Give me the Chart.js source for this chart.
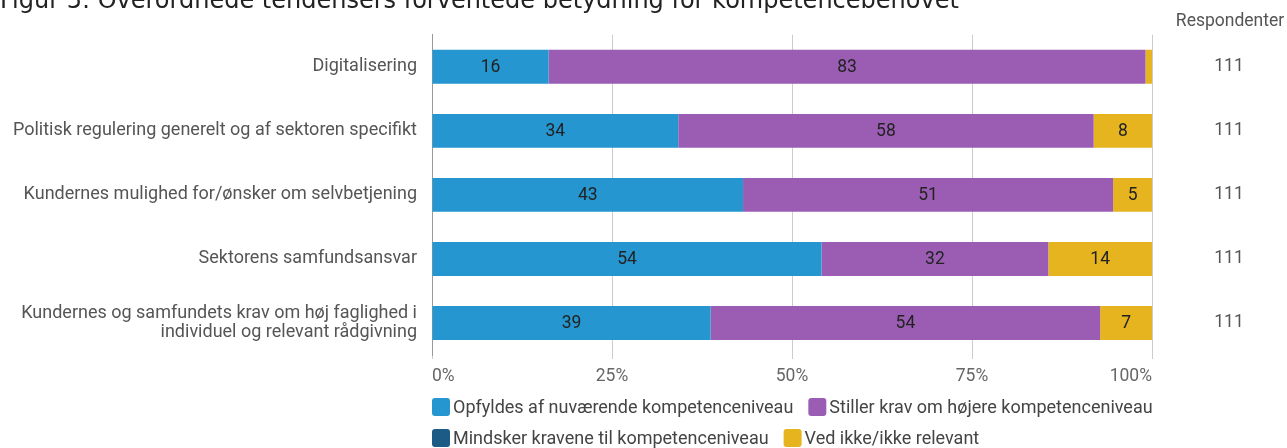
<!DOCTYPE html>
<html>
<head>
<meta charset="utf-8">
<script src="https://cdn.jsdelivr.net/npm/chart.js@4/dist/chart.umd.min.js"></script>
<style>
html,body{margin:0;padding:0;background:#fff;overflow:hidden;}
#wrap{width:1287px;height:448px;position:relative;}
</style>
</head>
<body>
<div id="wrap"><canvas id="c" width="1287" height="448"></canvas></div>
<script>
const titleText = "Figur 5: Overordnede tendensers forventede betydning for kompetencebehovet";
const categories = [
  "Digitalisering",
  "Politisk regulering generelt og af sektoren specifikt",
  "Kundernes mulighed for/ønsker om selvbetjening",
  "Sektorens samfundsansvar",
  ["Kundernes og samfundets krav om høj faglighed i", "individuel og relevant rådgivning"]
];
const seriesNames = [
  "Opfyldes af nuværende kompetenceniveau",
  "Stiller krav om højere kompetenceniveau",
  "Mindsker kravene til kompetenceniveau",
  "Ved ikke/ikke relevant"
];
const opfyldes = [16.2, 34.2, 43.2, 54.1, 38.7];
const stiller  = [82.9, 57.7, 51.4, 31.5, 54.1];
const mindsker = [0, 0, 0, 0, 0];
const vedIkke  = [0.9, 8.1, 5.4, 14.4, 7.2];
const respondenter = [111, 111, 111, 111, 111];
const respHeader = "Respondenter";
const xTicks = [0, 25, 50, 75, 100];
const colors = ["#2596cf", "#9b5db4", "#1b5b85", "#e5b41f"];

const plotLeft = 432, plotRight = 1152;

const extras = {
  id: 'extras',
  afterDatasetsDraw(chart) {
    const ctx = chart.ctx;
    ctx.save();
    ctx.font = '17.5px Roboto';
    ctx.fillStyle = '#222';
    ctx.textAlign = 'center';
    ctx.textBaseline = 'middle';
    chart.data.datasets.forEach((ds, di) => {
      const meta = chart.getDatasetMeta(di);
      meta.data.forEach((bar, i) => {
        const v = ds.data[i];
        if (v < 3) return;
        const cx = (bar.x + bar.base) / 2;
        ctx.fillText(String(Math.round(v)), cx, bar.y + 1);
      });
    });
    ctx.restore();
  },
  afterDraw(chart) {
    const ctx = chart.ctx;
    ctx.save();
    // title (partly cut at top)
    ctx.font = '24px "DejaVu Sans"';
    ctx.fillStyle = '#222';
    ctx.textAlign = 'left';
    ctx.textBaseline = 'alphabetic';
    ctx.fillText(titleText, 0, 8);
    // respondenter column
    ctx.font = '17.5px Roboto';
    ctx.fillStyle = '#555';
    ctx.textAlign = 'center';
    ctx.textBaseline = 'middle';
    ctx.fillText(respHeader, 1230, 22);
    ctx.font = '17.5px Roboto';
    const ys = chart.scales.y;
    respondenter.forEach((r, i) => {
      ctx.fillText(String(r), 1229, ys.getPixelForValue(i));
    });
    // legend
    ctx.font = '18px Roboto';
    ctx.textAlign = 'left';
    let x = plotLeft, y = 407;
    const maxX = 1160;
    chart.data.datasets.forEach((ds) => {
      const w = 18 + 3 + ctx.measureText(ds.label).width;
      if (x + w > maxX && x > plotLeft) { x = plotLeft; y += 31; }
      ctx.fillStyle = ds.backgroundColor;
      ctx.beginPath();
      ctx.roundRect(x, y - 9, 18, 18, 3);
      ctx.fill();
      ctx.fillStyle = '#444';
      ctx.fillText(ds.label, x + 21, y + 1);
      x += w + 15;
    });
    ctx.restore();
  }
};

const seriesData = [opfyldes, stiller, mindsker, vedIkke];
new Chart(document.getElementById('c'), {
  type: 'bar',
  data: {
    labels: categories,
    datasets: seriesNames.map((n, i) => ({
      label: n,
      data: seriesData[i],
      backgroundColor: colors[i],
      borderWidth: 0,
      barPercentage: 0.53,
      categoryPercentage: 1
    }))
  },
  options: {
    indexAxis: 'y',
    responsive: false,
    animation: false,
    layout: { padding: { top: 33, right: 1287 - plotRight, left: 0, bottom: 0 } },
    plugins: { legend: { display: false }, tooltip: { enabled: false }, title: { display: false } },
    scales: {
      x: {
        stacked: true,
        min: 0, max: 100,
        afterBuildTicks(scale) { scale.ticks = xTicks.map(v => ({ value: v })); },
        afterFit(scale) { scale.height = 93; },
        grid: { color: '#cccccc', lineWidth: 1, tickLength: 4, drawTicks: true },
        border: { display: false },
        ticks: {
          align: 'inner',
          padding: 7,
          color: '#666',
          font: { family: 'Roboto', size: 17.5 },
          callback: v => v + '%'
        }
      },
      y: {
        stacked: true,
        afterFit(scale) { scale.width = plotLeft; },
        grid: { display: false, drawTicks: false },
        border: { display: true, color: '#999', width: 1 },
        ticks: {
          padding: 15,
          color: '#555',
          font: { family: 'Roboto', size: 18, lineHeight: 1.1 }
        }
      }
    }
  },
  plugins: [extras]
});
</script>
</body>
</html>
